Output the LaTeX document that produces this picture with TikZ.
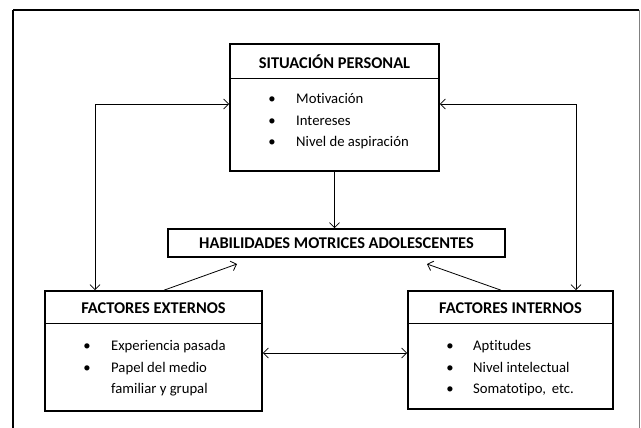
\documentclass[tikz,border=0pt]{standalone}
\usepackage{fontspec}
\setmainfont{Carlito}[Ligatures=NoCommon]
\usetikzlibrary{arrows.meta,calc}
\begin{document}
\begin{tikzpicture}[x=1pt,y=-1pt,
  box/.style={draw,line width=1.6pt,rectangle,inner sep=0pt},
  hdr/.style={font=\bfseries\fontsize{16.4}{18}\selectfont,inner sep=0pt},
  itm/.style={font=\fontsize{14.7}{17}\selectfont,inner sep=0pt,anchor=west,text height=10pt,text depth=3pt},
  bul/.style={font=\fontsize{14.7}{17}\selectfont,inner sep=0pt,text height=10pt,text depth=3pt},
  arr/.style={line width=0.8pt,{Straight Barb[length=5pt,width=10pt]}-{Straight Barb[length=5pt,width=10pt]}},
  arrone/.style={line width=0.8pt,-{Straight Barb[length=5pt,width=10pt]}},
  divl/.style={line width=0.8pt}]
\useasboundingbox (0,0) rectangle (641,428);
\draw[line width=1.8pt] (13,10) -- (639,10);
\draw[line width=1.8pt] (13,10) -- (13,440);
\draw[line width=0.8pt,gray] (639,10) -- (639,440);

% boxes
\node[box,minimum width=209pt,minimum height=127pt] (sp) at (334.5,107.5) {};
\node[box,minimum width=337pt,minimum height=28pt] (hab) at (336.5,243) {};
\node[box,minimum width=217pt,minimum height=120pt] (fe) at (153.5,351) {};
\node[box,minimum width=205pt,minimum height=118pt] (fi) at (510.5,350) {};

% dividers
\draw[divl] (sp.west |- 0,78) -- (sp.east |- 0,78);
\draw[divl] (fe.west |- 0,323) -- (fe.east |- 0,323);
\draw[divl] (fi.west |- 0,323) -- (fi.east |- 0,323);

% titles
\node[hdr] (spt) at (334.5,62) {SITUACIÓN PERSONAL};
\node[hdr] (habt) at (336.5,243.5) {HABILIDADES MOTRICES ADOLESCENTES};
\node[hdr] (fet) at (153.5,308) {FACTORES EXTERNOS};
\node[hdr] (fit) at (510.5,308) {FACTORES INTERNOS};

% items
\node[bul] (b1) at (272,100) {•};
\node[bul] (b2) at (272,122) {•};
\node[bul] (b3) at (272,143) {•};
\node[itm] (i1) at (296,100) {Motivación};
\node[itm] (i2) at (296,122) {Intereses};
\node[itm] (i3) at (296,143) {Nivel de aspiración};

\node[bul] (b4) at (87,347) {•};
\node[bul] (b5) at (87,369) {•};
\node[itm] (i4) at (111,347) {Experiencia pasada};
\node[itm] (i5) at (111,369) {Papel del medio};
\node[itm] (i6) at (111,390) {familiar y grupal};

\node[bul] (b6) at (450,347) {•};
\node[bul] (b7) at (450,369) {•};
\node[bul] (b8) at (450,390) {•};
\node[itm] (i7) at (473,347) {Aptitudes};
\node[itm] (i8) at (473,369) {Nivel intelectual};
\node[itm] (i9) at (473,390) {Somatotipo,\, etc.};

% connectors
\coordinate (hl) at (237,264);
\coordinate (hr) at (427,264);
\draw[arr] (sp.west |- 0,104) -| (95,0 |- fe.north);
\draw[arr] (sp.east |- 0,104) -| (576,0 |- fi.north);
\draw[arrone] (sp.south) -- (sp.south |- hab.north);
\draw[arrone] (fe.north -| 164,0) -- (hl);
\draw[arrone] (fi.north -| 501,0) -- (hr);
\draw[arr] (fe.east |- 0,353) -- (fi.west |- 0,353);
\end{tikzpicture}
\end{document}
